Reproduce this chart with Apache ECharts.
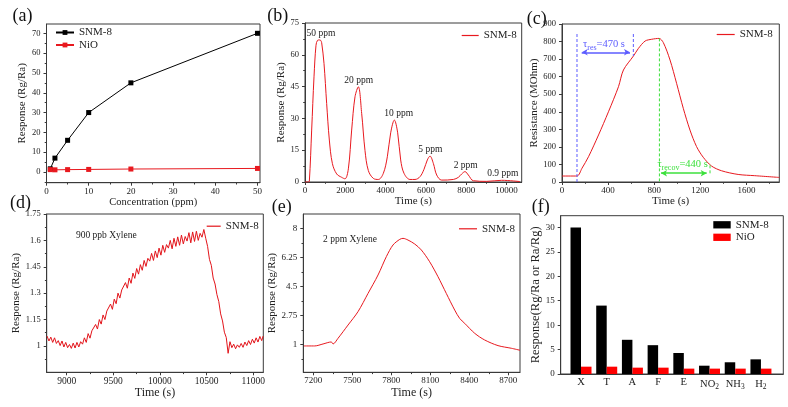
<!DOCTYPE html>
<html><head><meta charset="utf-8">
<script src="https://cdn.jsdelivr.net/npm/echarts@6/dist/echarts.min.js"></script>
<style>html,body{margin:0;padding:0;background:#fff}#c{width:788px;height:407px}</style>
</head><body><div id="c"></div>
<script>
// ---------------- data ----------------
// (a) response vs concentration
const aConc = [0.9, 2, 5, 10, 20, 50];
const aSNM = [1.6, 7, 16, 30, 45, 70];
const aNiO = [1.2, 1.1, 1.2, 1.3, 1.5, 1.8];
// (b) dynamic response, SNM-8
const bTime = [0,165,215,331,447,546,620,711,778,827,943,1075,1208,1357,1572,1820,1985,2151,2316,2482,2647,2812,2978,3143,3391,3640,3888,4086,4252,4434,4599,4748,4913,5211,5459,5707,5906,6071,6204,6369,6535,6783,7362,7610,7776,7941,8106,8355,9016,9761,10671];
const bResp = [0,0,0.3,24.5,49.6,64.5,66.8,67,66.8,65.7,55.9,37,19.8,8.8,3.8,2.2,1.5,6.2,24.5,40.2,44.9,32.4,14.8,5.4,1.7,1.2,4.1,11.9,23.2,29.2,23.2,10.4,4.1,1.2,1.2,2.5,6,10.4,12.2,8.8,3.3,0.9,1.2,2.2,3.8,4.9,3.3,0.6,0.3,0.8,0.2];
const bPeakLabels = ['50 ppm','20 ppm','10 ppm','5 ppm','2 ppm','0.9 ppm'];
const bPeakLabelAt = [[794,70.1],[2665,48.1],[4650,32.5],[6218,15.1],[7975,8.0],[9811,4.1]];
// (c) resistance transient
const cTime = [0,130,173,230,317,403,490,533,620,663,721,778,842,879,937,994,1052,1110,1167,1225,1297,1384,1528,1672,1885];
const cRes = [34,34,78,144,268,400,543,638,718,761,803,813,818,794,695,562,420,296,202,141,91,64,43,36,26];
const cResLines = [[130,843,0],[619,843,718]];      // [t, from, to]
const cResArrow = [171,590,739];                     // [t1, t2, v]
const cRecLines = [[845,818,0],[1284,95,40]];
const cRecArrow = [859,1255,50];
const cNotes = ['{t|τ}{s|res}{t|=470 s}','{t|τ}{s|recov}{t|=440 s}'];
const cNoteAt = [[364,783],[1046,99]];
// (d) 900 ppb xylene
const dTime = [8790,8810,8830,8850,8870,8890,8910,8930,8950,8970,8990,9010,9030,9050,9070,9090,9110,9130,9150,9170,9190,9210,9230,9250,9270,9290,9310,9330,9350,9370,9390,9410,9430,9450,9470,9490,9510,9530,9550,9570,9590,9610,9630,9650,9670,9690,9710,9730,9750,9770,9790,9810,9830,9850,9870,9890,9910,9930,9950,9970,9990,10010,10030,10050,10070,10090,10110,10130,10150,10170,10190,10210,10230,10250,10270,10290,10310,10330,10350,10370,10390,10410,10430,10450,10470,10490,10510,10530,10550,10570,10590,10610,10630,10650,10670,10690,10710,10730,10750,10770,10790,10810,10830,10850,10870,10890,10910,10930,10950,10970,10990,11010,11030,11050,11070,11090,11105];
const dResp = [1.056,1.028,1.050,1.020,1.046,1.014,1.030,1.002,1.028,0.994,
1.020,0.990,1.008,0.986,1.016,0.988,1.020,0.994,1.024,1.010,
1.046,1.020,1.070,1.044,1.086,1.078,1.122,1.096,1.150,1.124,
1.176,1.150,1.198,1.190,1.238,1.208,1.266,1.240,1.300,1.272,
1.318,1.310,1.360,1.328,1.386,1.356,1.414,1.384,1.440,1.408,
1.462,1.430,1.486,1.452,1.498,1.482,1.526,1.486,1.540,1.502,
1.556,1.516,1.572,1.532,1.576,1.556,1.600,1.552,1.612,1.566,
1.620,1.572,1.630,1.580,1.622,1.596,1.644,1.586,1.648,1.594,
1.652,1.600,1.640,1.618,1.662,1.612,1.566,1.492,1.458,1.386,
1.352,1.292,1.252,1.182,1.142,1.078,1.048,0.958,1.024,0.990,
1.010,0.984,1.006,0.992,1.014,0.992,1.022,1.002,1.030,1.008,
1.038,1.016,1.046,1.022,1.054,1.030,1.056];
// (e) 2 ppm xylene
const eTime = [7128,7211,7275,7338,7352,7390,7467,7544,7621,7698,7762,7813,7865,7890,7928,7980,8031,8095,8159,8223,8288,8326,8365,8442,8518,8621,8723,8790];
const eResp = [0.90,0.90,1.02,1.14,1.02,1.36,2.16,2.97,4.07,5.18,6.29,6.99,7.33,7.39,7.29,7.05,6.69,5.98,5.08,4.07,3.06,2.56,2.26,1.66,1.26,0.92,0.76,0.64];
// (f) selectivity
const fCats = ['X','T','A','F','E','NO2','NH3','H2'];
const fSNM = [30,14,7,5.9,4.3,1.7,2.4,3];
const fNiO = [1.5,1.5,1.3,1.3,1.1,1.1,1.1,1.1];
// ticks
const aXMaj=[0,10,20,30,40,50], aXMin=[5,15,25,35,45];
const aYMaj=[0,10,20,30,40,50,60,70], aYMin=[-5,5,15,25,35,45,55,65];
const bXMaj=[0,2000,4000,6000,8000,10000], bXMin=[1000,3000,5000,7000,9000];
const bYMaj=[0,15,30,45,60,75], bYMin=[7.5,22.5,37.5,52.5,67.5];
const cXMaj=[0,400,800,1200,1600], cXMin=[200,600,1000,1400,1800];
const cYMaj=[0,100,200,300,400,500,600,700,800,900];
const dXMaj=[9000,9500,10000,10500,11000], dXMin=[9250,9750,10250,10750];
const dYMaj=[1,1.15,1.3,1.45,1.6,1.75], dYMin=[0.925,1.075,1.225,1.375,1.525,1.675];
const eXMaj=[7200,7500,7800,8100,8400,8700], eXMin=[7350,7650,7950,8250,8550];
const eYMaj=[1,2.75,4.5,6.25,8], eYMin=[0.125,1.875,3.625,5.375,7.125];
const fXMaj=[0,1,2,3,4,5,6,7];
const fYMaj=[0,5,10,15,20,25,30];

// ---------------- style ----------------
const FONT = "'Liberation Serif','Times New Roman',serif";
const AX = '#3a3a3a', TXT = '#222';
const RED = '#e8191f', BLUE = '#5c5cff', GREEN = '#3ce03c';
const zip = (xs, ys) => xs.map((x, i) => [x, ys[i]]);

const grids = [
  {left:46.5, top:24, width:213.5, height:158.7},
  {left:305, top:23, width:216.7, height:159},
  {left:562, top:24, width:217.3, height:158},
  {left:46.7, top:214, width:216.6, height:158.3},
  {left:303.3, top:214, width:216.7, height:158.3},
  {left:560.7, top:215.7, width:222.6, height:158.3}
].map(g => Object.assign(g, {show:true, borderColor:AX, borderWidth:1, backgroundColor:'transparent'}));

function mkAxes(dim, gi, min, max, majors, minors, o) {
  o = o || {};
  const base = {type:'value', gridIndex:gi, min:min, max:max, splitLine:{show:false}, position: dim==='x'?'bottom':'left'};
  const label = {show:true, customValues:majors, margin:o.margin!=null?o.margin:(dim==='x'?4:6), fontFamily:FONT, fontSize:o.fs||9, color:TXT,
                 formatter: o.fmt || (v => String(v))};
  if (o.rich) label.rich = o.rich;
  const main = Object.assign({}, base, {
    axisLine:{show:true, onZero:false, lineStyle:{color:AX, width:1}},
    axisTick:{show:!o.noTick, inside:false, length:3, customValues:majors, lineStyle:{color:AX, width:1}},
    axisLabel:label,
    name:o.name || '', nameLocation:'middle', nameGap:o.gap||10,
    nameTextStyle:{fontFamily:FONT, fontSize:o.nfs||11, color:TXT}
  });
  const minor = Object.assign({}, base, {
    axisLine:{show:false, onZero:false},
    axisTick:{show:!!(minors && minors.length), inside:false, length:1.8, customValues:minors||[], lineStyle:{color:AX, width:1}},
    axisLabel:{show:false}
  });
  return [main, minor];
}

const xAxis = [].concat(
  mkAxes('x',0,0,50.6,aXMaj,aXMin,{name:'Concentration (ppm)', gap:13, nfs:10.5}),
  mkAxes('x',1,0,10754,bXMaj,bXMin,{name:'Time (s)', gap:14}),
  mkAxes('x',2,0,1885,cXMaj,cXMin,{name:'Time (s)', gap:14}),
  mkAxes('x',3,8786,11107,dXMaj,dXMin,{name:'Time (s)', gap:15, nfs:12, fs:9.5}),
  mkAxes('x',4,7123,8790,eXMaj,eXMin,{name:'Time (s)', gap:15, nfs:12}),
  mkAxes('x',5,-0.79,7.87,fXMaj,null,{noTick:true, fs:10.5, margin:3,
     fmt: v => fCats[Math.round(v)].replace(/(\d)/g,'{s|$1}'),
     rich:{s:{fontSize:7.5, fontFamily:FONT, color:TXT, padding:[6,0,0,0]}}})
);
const yAxis = [].concat(
  mkAxes('y',0,-5.4,74.7,aYMaj,aYMin,{name:'Response (Rg/Ra)', gap:16, fs:8.5}),
  mkAxes('y',1,0,75,bYMaj,bYMin,{name:'Response (Rg/Ra)', gap:15, fs:8.5}),
  mkAxes('y',2,0,900,cYMaj,null,{name:'Resistance (MOhm)', gap:19, fs:8.5}),
  mkAxes('y',3,0.85,1.75,dYMaj,dYMin,{name:'Response (Rg/Ra)', gap:21, fs:8.5}),
  mkAxes('y',4,-0.69,8.86,eYMaj,eYMin,{name:'Response (Rg/Ra)', gap:21, fs:9}),
  mkAxes('y',5,0,32.4,fYMaj,null,{name:'Response(Rg/Ra or Ra/Rg)', gap:13, nfs:12.5, fs:9})
);

// annotation helpers for panel (c)
const subRich = c => ({t:{color:c, fontFamily:FONT, fontSize:10.5}, s:{color:c, fontFamily:FONT, fontSize:8, padding:[6,0,0,0]}});
const hidden = {color:'rgba(0,0,0,0)'};
function dashSeries(l, color) {
  return {type:'line', xAxisIndex:4, yAxisIndex:4, data:[[l[0],l[1]],[l[0],l[2]]], symbol:'none', silent:true,
    lineStyle:{color:color, width:1, type:[3,2]}, itemStyle:{color:color}, z:4};
}
function noteSeries(name, color, arrow, note, at) {
  return {name:name, type:'line', xAxisIndex:4, yAxisIndex:4, data:[], symbol:'none', silent:true,
    lineStyle:{color:color}, itemStyle:{color:color},
    markLine:{silent:true, symbol:['arrow','arrow'], symbolSize:[5,6], label:{show:false}, animation:false,
      lineStyle:{color:color, width:1.5, type:'solid'}, emphasis:{disabled:true},
      data:[[{coord:[arrow[0],arrow[2]]},{coord:[arrow[1],arrow[2]]}]]},
    markPoint:{symbol:'circle', symbolSize:1, itemStyle:hidden, silent:true,
      data:[{name:name, coord:at, label:{show:true, position:'inside', formatter:note, rich:subRich(color)}}]}};
}

const series = [
  {name:'SNM-8 (a)', type:'line', xAxisIndex:0, yAxisIndex:0, data:zip(aConc,aSNM), symbol:'rect', symbolSize:5,
   lineStyle:{color:'#000', width:1}, itemStyle:{color:'#000'}, z:3},
  {name:'NiO (a)', type:'line', xAxisIndex:0, yAxisIndex:0, data:zip(aConc,aNiO), symbol:'rect', symbolSize:5,
   lineStyle:{color:RED, width:1}, itemStyle:{color:RED}},
  {name:'SNM-8 (b)', type:'line', xAxisIndex:2, yAxisIndex:2, data:zip(bTime,bResp), symbol:'none', smooth:0.35,
   lineStyle:{color:RED, width:1}, itemStyle:{color:RED},
   markPoint:{symbol:'circle', symbolSize:1, itemStyle:hidden, silent:true,
     label:{show:true, position:'inside', color:TXT, fontFamily:FONT, fontSize:9.5, formatter:p=>p.name},
     data:bPeakLabels.map((s,i)=>({name:s, coord:bPeakLabelAt[i]}))}},
  {name:'SNM-8 (c)', type:'line', xAxisIndex:4, yAxisIndex:4, data:zip(cTime,cRes), symbol:'none', smooth:0.3,
   lineStyle:{color:RED, width:1}, itemStyle:{color:RED}, z:3},
  dashSeries(cResLines[0], BLUE), dashSeries(cResLines[1], BLUE),
  dashSeries(cRecLines[0], GREEN), dashSeries(cRecLines[1], GREEN),
  noteSeries('res', BLUE, cResArrow, cNotes[0], cNoteAt[0]),
  noteSeries('recov', GREEN, cRecArrow, cNotes[1], cNoteAt[1]),
  {name:'SNM-8 (d)', type:'line', xAxisIndex:6, yAxisIndex:6, data:zip(dTime,dResp), symbol:'none',
   lineStyle:{color:'#e3141a', width:1}, itemStyle:{color:'#e3141a'}},
  {name:'SNM-8 (e)', type:'line', xAxisIndex:8, yAxisIndex:8, data:zip(eTime,eResp), symbol:'none', smooth:0.3,
   lineStyle:{color:RED, width:1}, itemStyle:{color:RED}},
  {name:'SNM-8 (f)', type:'bar', xAxisIndex:10, yAxisIndex:10, data:fSNM.map((v,i)=>[i,v]), barWidth:10.5, barGap:'0%',
   itemStyle:{color:'#000'}},
  {name:'NiO (f)', type:'bar', xAxisIndex:10, yAxisIndex:10, data:fNiO.map((v,i)=>[i,v]), barWidth:10.5, barGap:'0%',
   itemStyle:{color:'#ff0000'}}
];

const lg = (o) => Object.assign({orient:'vertical', padding:0, itemGap:0, itemWidth:18, itemHeight:1.2, icon:'rect', selectedMode:false,
  textStyle:{fontFamily:FONT, fontSize:11, color:TXT}, formatter:n=>n.replace(/ \(.\)$/,'')}, o);
const legend = [
  lg({left:55, top:27, itemHeight:6, itemGap:1.5, icon:undefined, data:['SNM-8 (a)','NiO (a)']}),
  lg({left:461.7, top:30, itemWidth:17, data:['SNM-8 (b)']}),
  lg({left:716.7, top:29, data:['SNM-8 (c)']}),
  lg({left:206.7, top:220.7, itemWidth:14, data:['SNM-8 (d)']}),
  lg({left:459, top:223.3, data:['SNM-8 (e)']}),
  lg({left:713.3, top:219.3, itemWidth:17.4, itemHeight:7.3, itemGap:1.5, data:['SNM-8 (f)','NiO (f)']})
];

const panelLetters = ['(a)','(b)','(c)','(d)','(e)','(f)'];
const letterAt = [[12.5,16.5],[267.3,16],[526.7,19.5],[10,203],[271.7,207.5],[531.7,207.5]];
const graphic = panelLetters.map((s,i)=>({type:'text', x:letterAt[i][0], y:letterAt[i][1], silent:true,
  style:{text:s, fontFamily:FONT, fontSize:18, fill:'#111', verticalAlign:'middle', align:'left'}}))
 .concat([
  {type:'text', x:106.3, y:235, silent:true, style:{text:'900 ppb Xylene', fontFamily:FONT, fontSize:9.5, fill:TXT, align:'center', verticalAlign:'middle'}},
  {type:'text', x:350, y:239.3, silent:true, style:{text:'2 ppm Xylene', fontFamily:FONT, fontSize:9.5, fill:TXT, align:'center', verticalAlign:'middle'}}
 ]);

const chart = echarts.init(document.getElementById('c'), null, {renderer:'canvas'});
chart.setOption({
  animation:false,
  backgroundColor:'#fff',
  textStyle:{fontFamily:FONT},
  grid:grids, xAxis:xAxis, yAxis:yAxis, series:series, legend:legend, graphic:graphic
});
</script></body></html>
